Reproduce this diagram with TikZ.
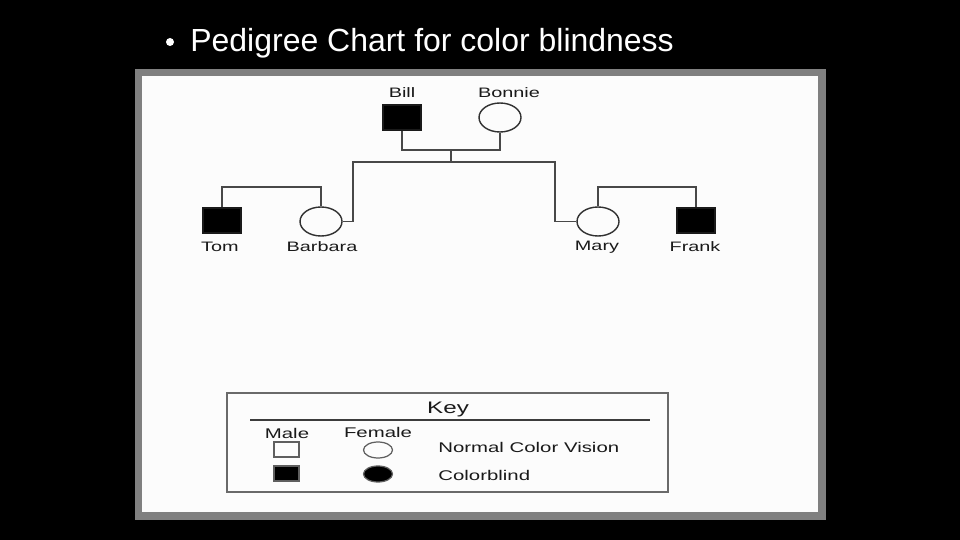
\documentclass[tikz,border=0pt]{standalone}
\usepackage{fontspec}
\setmainfont{Liberation Sans}
\usepackage{graphicx}
\usepackage{xcolor}
\usepackage{tikz}
\usetikzlibrary{shapes.geometric,positioning,calc}
\definecolor{ink}{HTML}{1A1A1A}
\definecolor{framegray}{HTML}{808080}
\definecolor{keyline}{HTML}{6A6A6A}
\newcommand{\scantext}[1]{\scalebox{1.45}[1]{#1}}

\begin{document}
\begin{tikzpicture}[x=0.02cm,y=-0.02cm,
    male/.style={draw=ink,line width=0.8pt,rectangle,minimum width=0.76cm,minimum height=0.5cm,inner sep=0pt},
    female/.style={draw=ink!90,line width=0.8pt,ellipse,minimum width=0.84cm,minimum height=0.58cm,inner sep=0pt},
    keymale/.style={draw=ink!70,line width=0.7pt,rectangle,minimum width=0.5cm,minimum height=0.3cm,inner sep=0pt},
    keyfemale/.style={draw=ink!70,line width=0.7pt,ellipse,minimum width=0.58cm,minimum height=0.32cm,inner sep=0pt},
    pname/.style={font=\fontsize{7.8}{9}\selectfont,text=ink,inner sep=0pt},
    keytext/.style={font=\fontsize{8}{9.5}\selectfont,text=ink,inner sep=0pt},
    link/.style={draw=ink!80,line width=1.1pt}]
  \fill[black] (0,0) rectangle (960,540);
  \useasboundingbox (0,0) rectangle (960,540);
  \node[font=\fontsize{18.2}{21}\selectfont,text=white,inner sep=0pt,anchor=base west] (title) at (190,52) {Pedigree Chart for color blindness};
  \fill[white] (170,42) circle (4);
  \fill[framegray] (135,69) rectangle (826,520);
  \fill[white!99!black] (142,76) rectangle (818,512);
  \node[male,fill=black] (bill) at (402,117.5) {};
  \node[female] (bonnie) at (500,117.5) {};
  \node[male,fill=black] (tom) at (222,220.5) {};
  \node[female] (barbara) at (321,221.5) {};
  \node[female] (mary) at (598,221.5) {};
  \node[male,fill=black] (frank) at (696,220.5) {};
  \node[pname] (billlbl) at (402,93) {\scantext{Bill}};
  \node[pname] (bonnielbl) at (509,93) {\scantext{Bonnie}};
  \node[pname] (tomlbl) at (220,247) {\scantext{Tom}};
  \node[pname] (barbaralbl) at (322,247) {\scantext{Barbara}};
  \node[pname] (marylbl) at (597,247) {\scantext{Mary}};
  \node[pname] (franklbl) at (695,247) {\scantext{Frank}};
  \coordinate (billbonnie) at (451,150);
  \coordinate (sibs) at (451,162);
  \coordinate (sibL) at (353,162);
  \coordinate (sibR) at (555,162);
  \coordinate (tombarbara) at (270,187);
  \coordinate (maryfrank) at (645,187);
  \draw[link] (bill.south) |- (billbonnie) -| (bonnie.south);
  \draw[link] (billbonnie) -- (sibs);
  \draw[link] (barbara.east) -| (sibL) -- (sibR) |- (mary.west);
  \draw[link] (tom.north) |- (tombarbara) -| (barbara.north);
  \draw[link] (mary.north) |- (maryfrank) -| (frank.north);
  \draw[keyline,line width=0.9pt] (227,393) rectangle (668,492);
  \node[keytext,font=\fontsize{9.5}{11}\selectfont] (keylbl) at (448,409) {\scantext{Key}};
  \coordinate (ruleL) at (250,420);
  \coordinate (ruleR) at (650,420);
  \draw[ink!85,line width=1.1pt] (ruleL) -- (ruleR);
  \node[keytext] (malelbl) at (287,433) {\scantext{Male}};
  \node[keytext] (femalelbl) at (378,432) {\scantext{Female}};
  \node[keymale] (kmale) at (286.5,449.5) {};
  \node[keyfemale] (kfemale) at (378,450) {};
  \node[keymale,fill=black] (kmaleblind) at (286.5,473.5) {};
  \node[keyfemale,fill=black] (kfemaleblind) at (378,474) {};
  \node[keytext,anchor=west] (normal) at (438,447) {\scantext{Normal Color Vision}};
  \node[keytext,anchor=west] (blind) at (438,475) {\scantext{Colorblind}};
\end{tikzpicture}
\end{document}
